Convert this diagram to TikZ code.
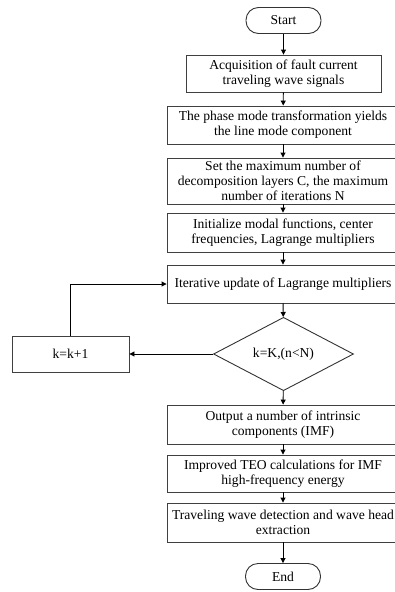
\documentclass[tikz,border=0pt]{standalone}
\usepackage{fontspec}
\setmainfont{Liberation Serif}
\usetikzlibrary{shapes.geometric}
\usetikzlibrary{arrows.meta}
\begin{document}
\begin{tikzpicture}[
		x=1pt, y=-1pt,
		font=\fontsize{13.6}{14.8}\selectfont,
		proc/.style = {rectangle, draw=black!75, line width=0.9pt, align=center, inner sep=0pt, minimum width=232pt},
		term/.style = {rectangle, rounded corners=12.5pt, draw=black!80, line width=0.9pt, inner sep=0pt, minimum width=75pt, minimum height=26pt},
		cond/.style = {diamond, draw=black!80, line width=0.9pt, inner sep=0pt, minimum width=140pt, minimum height=68pt},
		r/.style = {-{Triangle[length=5pt, width=5pt]}, line width=0.9pt}
		]
		\useasboundingbox (0,0) rectangle (394,592);
		
		%Nodes
		\node[term]	(start)	at	(283.5, 20.5)	{Start};
		\node[proc, minimum width=195pt, minimum height=37pt]	(acq)	at	(283.5, 73.5)	{Acquisition of fault current\\traveling wave signals};
		\node[proc, minimum height=38pt]	(pmt)	at	(283, 125)	{The phase mode transformation yields\\the line mode component};
		\node[proc, minimum height=46pt]	(set)	at	(283, 181)	{Set the maximum number of\\decomposition layers C, the maximum\\number of iterations N};
		\node[proc, minimum height=39pt]	(init)	at	(283, 232.5)	{Initialize modal functions, center\\frequencies, Lagrange multipliers};
		\node[proc, minimum height=38pt]	(iter)	at	(283, 284)	{Iterative update of Lagrange multipliers};
		\node[cond]	(chk)	at	(283.5, 354)	{k=K,(n<N)};
		\node[proc, minimum width=117pt, minimum height=36pt]	(inc)	at	(70.5, 354)	{k=k+1};
		\node[proc, minimum height=39pt]	(imf)	at	(283, 424.5)	{Output a number of intrinsic\\components (IMF)};
		\node[proc, minimum height=37pt]	(teo)	at	(283, 473.5)	{Improved TEO calculations for IMF\\high-frequency energy};
		\node[proc, minimum height=39pt]	(det)	at	(283, 522.5)	{Traveling wave detection and wave head\\extraction};
		\node[term]	(end)	at	(283, 576.5)	{End};
		
		%Lines
		\draw[r]	(start)	--	(acq);
		\draw[r]	(acq)	--	(pmt);
		\draw[r]	(pmt)	--	(set);
		\draw[r]	(set)	--	(init);
		\draw[r]	(init)	--	(iter);
		\draw[r]	(iter)	--	(chk);
		\draw[r]	(chk.west)	--	(inc.east);
		\draw[r]	(inc.north)	|-	(iter.west);
		\draw[r]	(chk)	--	(imf);
		\draw[r]	(imf)	--	(teo);
		\draw[r]	(teo)	--	(det);
		\draw[r]	(det)	--	(end);
	\end{tikzpicture}
\end{document}
